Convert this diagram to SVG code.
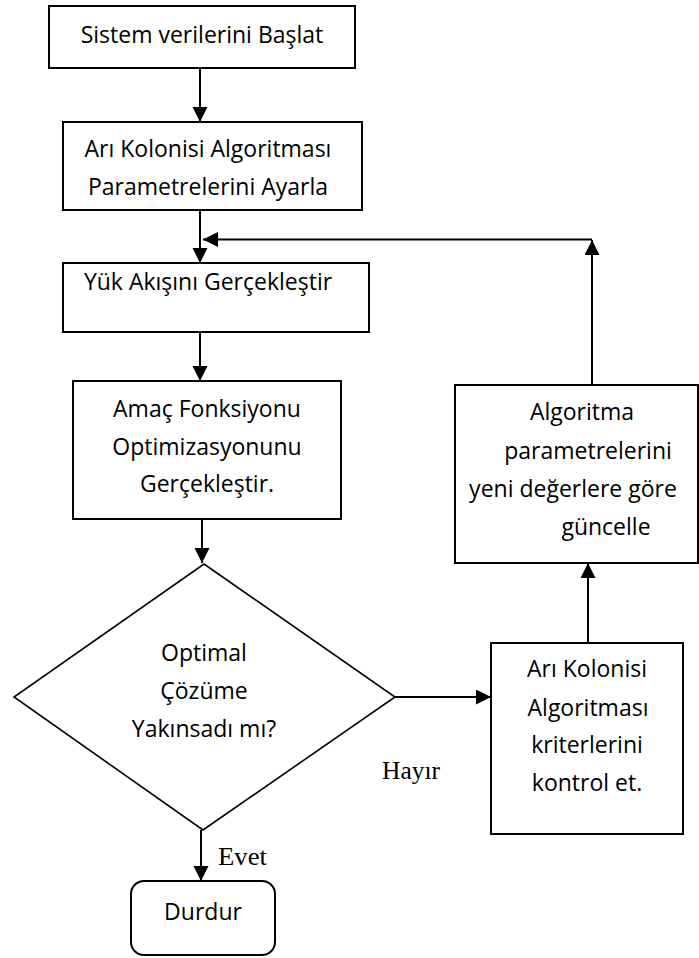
<svg xmlns="http://www.w3.org/2000/svg" width="699" height="958" viewBox="0 0 699 958">
  <style>
    .box { fill: #ffffff; stroke: #000000; stroke-width: 2; }
    .dia { fill: #ffffff; stroke: #000000; stroke-width: 1.6; }
    .lbl { font-family: "Open Sans", "Noto Sans", "DejaVu Sans", sans-serif; font-size: 23px; fill: #000000; text-anchor: middle; }
    .yn { font-family: "Liberation Serif", "DejaVu Serif", serif; font-size: 25px; fill: #000000; }
    .edge { fill: none; stroke: #000000; stroke-width: 2; }
  </style>
  <defs>
    <marker id="arrow" markerUnits="userSpaceOnUse" markerWidth="16" markerHeight="16" refX="15" refY="7.5" orient="auto">
      <path d="M0,0 L15,7.5 L0,15 Z" fill="#000000"/>
    </marker>
  </defs>
  <rect width="699" height="958" fill="#ffffff"/>

  <!-- connectors -->
  <g id="connectors">
    <line class="edge" x1="200" y1="68" x2="200" y2="122" marker-end="url(#arrow)"/>
    <line class="edge" x1="200" y1="210" x2="200" y2="263" marker-end="url(#arrow)"/>
    <line class="edge" x1="200" y1="332" x2="200" y2="381" marker-end="url(#arrow)"/>
    <line class="edge" x1="202" y1="519" x2="202" y2="563" marker-end="url(#arrow)"/>
    <line class="edge" x1="201" y1="830" x2="201" y2="881" marker-end="url(#arrow)"/>
    <line class="edge" x1="395" y1="697" x2="491" y2="697" marker-end="url(#arrow)"/>
    <line class="edge" x1="588" y1="643" x2="588" y2="563" marker-end="url(#arrow)"/>
    <line class="edge" x1="592" y1="385" x2="592" y2="240" marker-end="url(#arrow)"/>
    <line class="edge" x1="592" y1="239.5" x2="203" y2="239.5" marker-end="url(#arrow)"/>
    <text class="yn" x="218" y="865" textLength="49" lengthAdjust="spacingAndGlyphs">Evet</text>
    <text class="yn" x="382" y="779" textLength="58" lengthAdjust="spacingAndGlyphs">Hayır</text>
  </g>

  <g id="start">
    <rect class="box" x="49" y="6" width="306" height="62"/>
    <text class="lbl" x="202" y="43">Sistem verilerini Başlat</text>
  </g>

  <g id="set-params">
    <rect class="box" x="63" y="122" width="299" height="88"/>
    <text class="lbl" x="208" y="157">Arı Kolonisi Algoritması</text>
    <text class="lbl" x="208" y="195">Parametrelerini Ayarla</text>
  </g>

  <g id="load-flow">
    <rect class="box" x="63" y="263" width="306" height="69"/>
    <text class="lbl" x="208" y="290">Yük Akışını Gerçekleştir</text>
  </g>

  <g id="objective">
    <rect class="box" x="73" y="381" width="268" height="138"/>
    <text class="lbl" x="207" y="417">Amaç Fonksiyonu</text>
    <text class="lbl" x="207" y="455">Optimizasyonunu</text>
    <text class="lbl" x="207" y="492">Gerçekleştir.</text>
  </g>

  <g id="converged">
    <polygon class="dia" points="204,564 395,697 203,830 14,697"/>
    <text class="lbl" x="204" y="661">Optimal</text>
    <text class="lbl" x="204" y="699">Çözüme</text>
    <text class="lbl" x="204" y="737">Yakınsadı mı?</text>
  </g>

  <g id="stop">
    <rect class="box" x="131" y="881" width="144" height="74" rx="13" ry="13"/>
    <text class="lbl" x="203" y="920">Durdur</text>
  </g>

  <g id="check-criteria">
    <rect class="box" x="491" y="643" width="192" height="191"/>
    <text class="lbl" x="587" y="677">Arı Kolonisi</text>
    <text class="lbl" x="588" y="716">Algoritması</text>
    <text class="lbl" x="587" y="753">kriterlerini</text>
    <text class="lbl" x="587" y="791">kontrol et.</text>
  </g>

  <g id="update-params">
    <rect class="box" x="455" y="385" width="243" height="178"/>
    <text class="lbl" x="582" y="420">Algoritma</text>
    <text class="lbl" x="588" y="459">parametrelerini</text>
    <text class="lbl" x="573" y="497">yeni değerlere göre</text>
    <text class="lbl" x="606" y="535">güncelle</text>
  </g>
</svg>
